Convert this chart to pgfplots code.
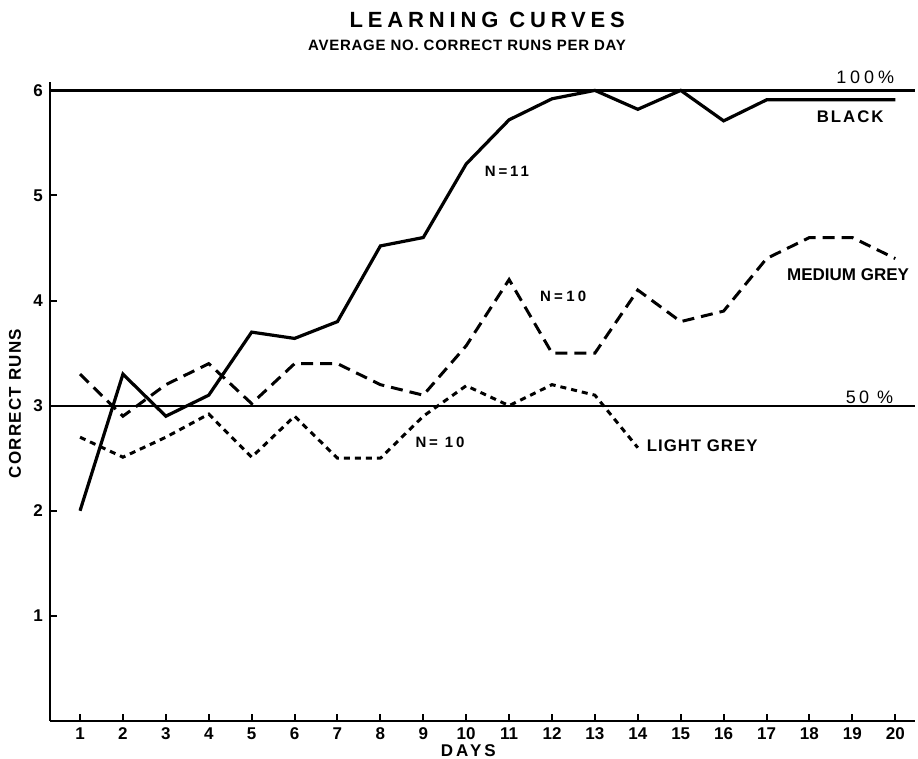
\documentclass[border=0pt]{standalone}
\usepackage{fontspec}
\setmainfont{Liberation Sans}
\newfontfamily\titlefont[LetterSpace=22]{Liberation Sans}
\newfontfamily\subfont[LetterSpace=5]{Liberation Sans}
\newfontfamily\lsA[LetterSpace=6]{Liberation Sans}
\newfontfamily\lsB[LetterSpace=12]{Liberation Sans}
\newfontfamily\lsC[LetterSpace=19]{Liberation Sans}
\newfontfamily\lsD[LetterSpace=22]{Liberation Sans}
\newfontfamily\lsE[LetterSpace=7]{Liberation Sans}
\newfontfamily\lsF[LetterSpace=18]{Liberation Sans}
\usepackage{pgfplots}
\pgfplotsset{compat=1.18}
\begin{document}
\begin{tikzpicture}[x=1pt,y=1pt]
\begin{axis}[
  at={(25pt,19pt)}, anchor=south west,
  scale only axis, width=432.5pt, height=319.5pt,
  xmin=0.3, xmax=20.46, ymin=0, ymax=6.08,
  axis lines=left, axis line style={-, line width=1.4pt},
  xtick={1,...,20}, ytick={1,...,6},
  tick style={line width=1pt, black}, major tick length=3.5pt,
  tick align=inside,
  ticklabel style={font=\bfseries\fontsize{8.5}{10}\selectfont},
  /pgf/number format/assume math mode=true,
  clip=false,
]
% reference lines
\addplot[black, line width=1.2pt, forget plot] coordinates {(0.3,6) (20.46,6)};
\addplot[black, line width=0.9pt, forget plot] coordinates {(0.3,3) (20.46,3)};
% black
\addplot[black, line width=1.6pt] coordinates {
(1,2.0) (2,3.3) (3,2.9) (4,3.1) (5,3.7) (6,3.64) (7,3.8) (8,4.52) (9,4.6) (10,5.3)
(11,5.72) (12,5.92) (13,6.0) (14,5.82) (15,6.0) (16,5.71) (17,5.91) (18,5.91) (19,5.91) (20,5.91)};
% medium grey
\addplot[black, line width=1.5pt, dash pattern=on 6pt off 3.5pt] coordinates {
(1,3.3) (2,2.9) (3,3.2) (4,3.4) (5,3.02) (6,3.4) (7,3.4) (8,3.2) (9,3.1) (10,3.57)
(11,4.2) (12,3.5) (13,3.5) (14,4.1) (15,3.8) (16,3.9) (17,4.4) (18,4.6) (19,4.6) (20,4.4)};
% light grey
\addplot[black, line width=1.5pt, dash pattern=on 3pt off 2.5pt] coordinates {
(1,2.7) (2,2.51) (3,2.7) (4,2.92) (5,2.51) (6,2.9) (7,2.5) (8,2.5) (9,2.9) (10,3.19)
(11,3.0) (12,3.2) (13,3.1) (14,2.6)};
% annotations
\node[font=\lsC\bfseries\fontsize{7.5}{8}\selectfont] at (axis cs:10.95,5.23) {N=11};
\node[font=\lsD\bfseries\fontsize{7.5}{8}\selectfont] at (axis cs:12.26,4.04) {N=10};
\node[font=\lsC\bfseries\fontsize{7.5}{8}\selectfont] at (axis cs:9.39,2.65) {N= 10};
\node[font=\lsA\bfseries\fontsize{8.4}{9}\selectfont] at (axis cs:15.5,2.62) {LIGHT GREY};
\node[font=\bfseries\fontsize{8.5}{9}\selectfont] at (axis cs:18.9,4.25) {MEDIUM GREY};
\node[font=\lsB\bfseries\fontsize{8.4}{9}\selectfont] at (axis cs:18.95,5.75) {BLACK};
\node[font=\lsD\fontsize{9}{9}\selectfont] at (axis cs:19.3,6.12) {100\%};
\node[font=\lsF\fontsize{9}{9}\selectfont] at (axis cs:19.4,3.08) {50 \%};
\node[font=\lsF\bfseries\fontsize{8.5}{9}\selectfont] at (axis cs:10.05,-0.285) {DAYS};
\node[font=\lsE\bfseries\fontsize{8.5}{9}\selectfont, rotate=90] at (axis cs:-0.515,3.02) {CORRECT RUNS};
\node[font=\titlefont\bfseries\fontsize{11}{12}\selectfont] at (axis cs:10.49,6.67) {LEARNING CURVES};
\node[font=\subfont\bfseries\fontsize{7.5}{8}\selectfont] at (axis cs:10.02,6.43) {AVERAGE NO. CORRECT RUNS PER DAY};
\end{axis}
\pgfresetboundingbox
\path[use as bounding box] (0,0) rectangle (459pt,379.5pt);
\end{tikzpicture}
\end{document}
